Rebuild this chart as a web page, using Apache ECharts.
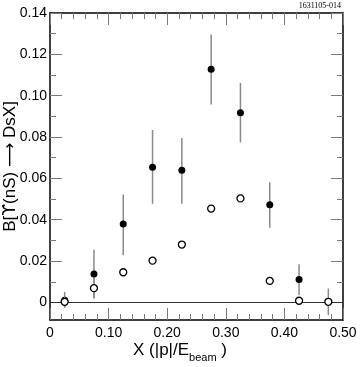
<!DOCTYPE html>
<html>
<head>
<meta charset="utf-8">
<script src="https://cdn.jsdelivr.net/npm/echarts@6/dist/echarts.min.js"></script>
<style>html,body{margin:0;padding:0;background:#fff}#c{width:360px;height:367px}</style>
</head>
<body>
<div id="c"></div>
<script>
var xValues = [0.025, 0.075, 0.125, 0.175, 0.225, 0.275, 0.325, 0.375, 0.425, 0.475];
var filledVal  = [0.0011, 0.0138, 0.0379, 0.0654, 0.0639, 0.1128, 0.0917, 0.0472, 0.0111, null];
var filledLow  = [-0.0025, 0.0020, 0.0228, 0.0477, 0.0477, 0.0957, 0.0774, 0.0361, 0.0035, null];
var filledHigh = [0.0051, 0.0255, 0.0522, 0.0834, 0.0795, 0.1296, 0.1062, 0.0581, 0.0185, null];
var openVal  = [0.0003, 0.0069, 0.0146, 0.0202, 0.0280, 0.0454, 0.0503, 0.0104, 0.0008, 0.0003];
var openLow  = [-0.0025, 0.0019, 0.0136, 0.0185, 0.0265, 0.0440, 0.0490, 0.0094, 0.0000, -0.0061];
var openHigh = [0.0030, 0.0119, 0.0156, 0.0220, 0.0295, 0.0468, 0.0515, 0.0114, 0.0016, 0.0067];
var yMajorTicks = [0, 0.02, 0.04, 0.06, 0.08, 0.10, 0.12, 0.14];
var yMinorTicks = [0.01, 0.03, 0.05, 0.07, 0.09, 0.11, 0.13];
var xTickLabels = ['0', '0.10', '0.20', '0.30', '0.40', '0.50'];

var FONT = 'Liberation Sans, Arial, DejaVu Sans, sans-serif';
var Y_MIN = -0.0085, Y_MAX = 0.14;

function pts(vals) {
  var out = [];
  for (var i = 0; i < xValues.length; i++) if (vals[i] !== null) out.push([xValues[i], vals[i]]);
  return out;
}
function bars(lo, hi) {
  var out = [];
  for (var i = 0; i < xValues.length; i++) if (lo[i] !== null) out.push([xValues[i], lo[i], hi[i]]);
  return out;
}
function errRender(params, api) {
  var a = api.coord([api.value(0), api.value(1)]);
  var b = api.coord([api.value(0), api.value(2)]);
  return {type: 'line', shape: {x1: a[0], y1: a[1], x2: b[0], y2: b[1]},
          style: {stroke: '#8a8a8a', lineWidth: 1.5}};
}

var tickStyle = {color: '#7a7a7a', width: 1};
var lineStyle = {color: '#000', width: 1.5};

function xAx(pos, labels) {
  return {
    type: 'value', position: pos, min: 0, max: 0.5, interval: 0.1,
    axisLine: {show: true, onZero: false, lineStyle: lineStyle},
    axisTick: {show: true, inside: true, length: 12, lineStyle: tickStyle},
    minorTick: {show: true, splitNumber: 5, length: 6, lineStyle: tickStyle},
    axisLabel: labels ? {show: true, margin: 6, fontFamily: FONT, fontSize: 14, color: '#000',
      formatter: function (v) { return xTickLabels[Math.round(v * 10)]; }} : {show: false},
    splitLine: {show: false}
  };
}
function yAx(pos, vals, len, line, labels) {
  var ax = {
    type: 'value', position: pos, min: Y_MIN, max: Y_MAX,
    axisLine: {show: line, onZero: false, lineStyle: lineStyle},
    axisTick: {show: true, inside: true, length: len, customValues: vals, lineStyle: tickStyle},
    axisLabel: {show: false},
    splitLine: {show: false}
  };
  if (labels) {
    ax.axisLabel = {show: true, customValues: vals, margin: 3, fontFamily: FONT, fontSize: 14, color: '#000',
      formatter: function (v) { return Math.abs(v) < 1e-9 ? '0' : v.toFixed(2); }};
    ax.name = 'B[{u|\u03D2}(nS) \u27F6 DsX]';
    ax.nameLocation = 'middle';
    ax.nameRotate = 90;
    ax.nameGap = 31;
    ax.nameMoveOverlap = false;
    ax.nameTextStyle = {fontFamily: FONT, fontSize: 17, color: '#000',
      rich: {u: {fontFamily: 'DejaVu Sans', fontSize: 17, color: '#000'}}};
  }
  return ax;
}

var chart = echarts.init(document.getElementById('c'), null, {renderer: 'canvas'});
chart.setOption({
  animation: false,
  backgroundColor: '#fff',
  grid: {left: 50, right: 17, top: 13, bottom: 47, containLabel: false, outerBoundsMode: 'none'},
  xAxis: [xAx('bottom', true), xAx('top', false)],
  yAxis: [
    yAx('left', yMajorTicks, 12, true, true),
    yAx('left', yMinorTicks, 6, false, false),
    yAx('right', yMajorTicks, 12, true, false),
    yAx('right', yMinorTicks, 6, false, false)
  ],
  graphic: [
    {type: 'text', right: 19, top: 2, style: {text: '1631105-014', font: '8px "Liberation Serif", serif', fill: '#000'}},
    {type: 'text', left: 'center', top: 342,
     style: {text: '{a|X (|p|/E}{b|beam}{a| )}', rich: {
       a: {fontFamily: FONT, fontSize: 17, fill: '#000', verticalAlign: 'bottom', lineHeight: 20},
       b: {fontFamily: FONT, fontSize: 11, fill: '#000', verticalAlign: 'bottom', padding: [0, 0, -4, 0], lineHeight: 20}
     }}}
  ],
  series: [
    {type: 'line', xAxisIndex: 0, yAxisIndex: 0, data: [], silent: true,
     markLine: {silent: true, symbol: 'none', label: {show: false},
       lineStyle: {color: '#333', width: 1, type: 'solid'}, data: [{yAxis: 0}]}},
    {type: 'custom', xAxisIndex: 0, yAxisIndex: 0, renderItem: errRender, data: bars(filledLow, filledHigh), z: 3},
    {type: 'scatter', xAxisIndex: 0, yAxisIndex: 0, data: pts(filledVal), symbol: 'circle', symbolSize: 7,
     itemStyle: {color: '#000', opacity: 1}, z: 4},
    {type: 'custom', xAxisIndex: 0, yAxisIndex: 0, renderItem: errRender, data: bars(openLow, openHigh), z: 5},
    {type: 'scatter', xAxisIndex: 0, yAxisIndex: 0, data: pts(openVal), symbol: 'circle', symbolSize: 7,
     itemStyle: {color: '#fff', borderColor: '#000', borderWidth: 1.3, opacity: 1}, z: 6}
  ]
});
</script>
</body>
</html>
